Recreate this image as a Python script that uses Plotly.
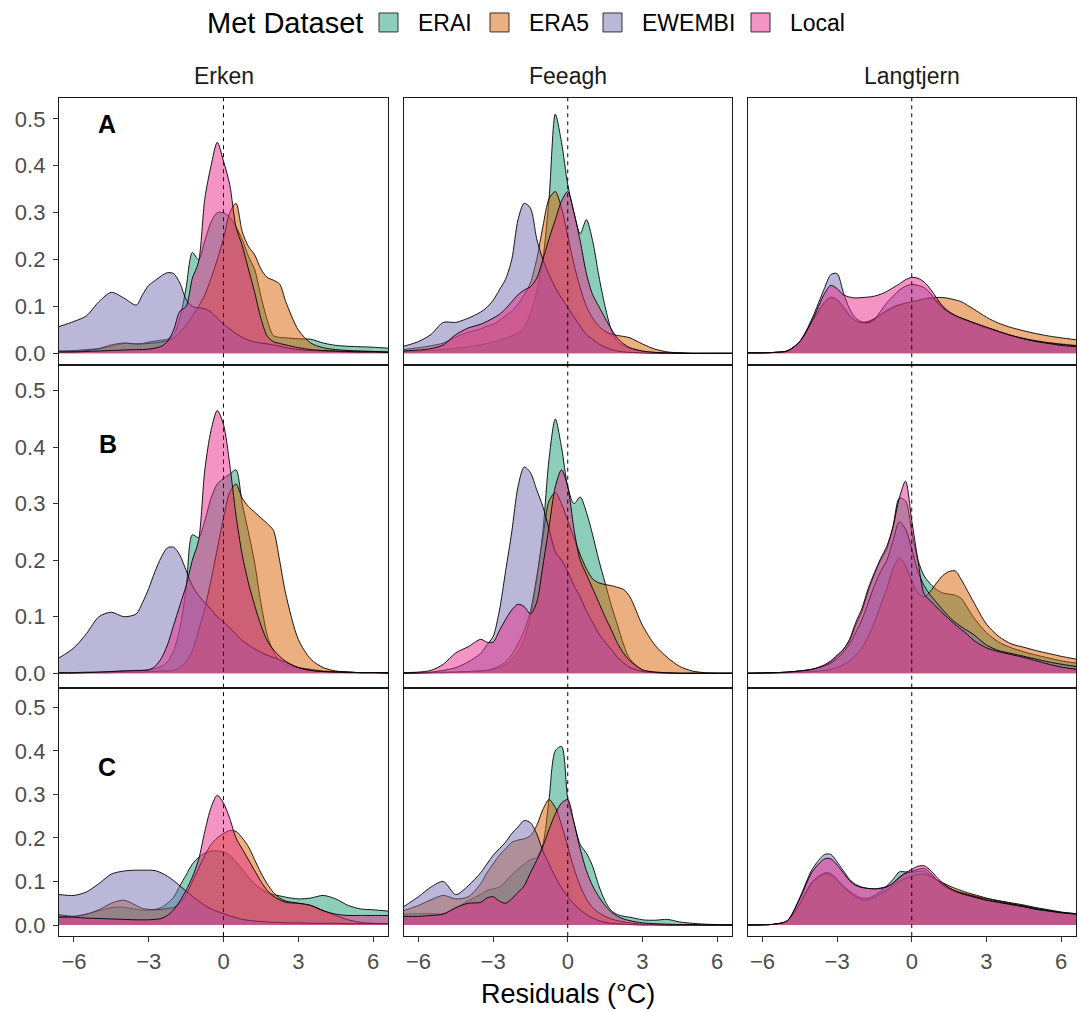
import plotly.graph_objects as go

W, H = 1079, 1012

# residual grid (°C) shared by every density curve
grid = [-6.6, -6, -5.5, -5, -4.5, -4, -3.5, -3.25, -3, -2.75,
        -2.5, -2.25, -2, -1.75, -1.5, -1.25, -1, -0.75, -0.5, -0.25,
        0, 0.25, 0.5, 0.75, 1, 1.25, 1.5, 1.75, 2, 2.25,
        2.5, 3, 3.5, 4, 4.5, 5, 5.5, 6, 6.6]

lakes = ["Erken", "Feeagh", "Langtjern"]
panel_rows = ["A", "B", "C"]
datasets = ["ERAI", "ERA5", "EWEMBI", "Local"]
x_ticks = [-6, -3, 0, 3, 6]
y_ticks = [0, 0.1, 0.2, 0.3, 0.4, 0.5]
y_tick_text = ["0.0", "0.1", "0.2", "0.3", "0.4", "0.5"]

# ---------------- Erken ----------------
erken_A_ERAI = [0.005, 0.006, 0.008, 0.010, 0.015, 0.021, 0.020, 0.021, 0.024, 0.026,
                0.028, 0.030, 0.040, 0.075, 0.140, 0.215, 0.200, 0.240, 0.280, 0.300,
                0.300, 0.290, 0.270, 0.243, 0.207, 0.179, 0.122, 0.072, 0.038, 0.034,
                0.033, 0.031, 0.030, 0.022, 0.017, 0.015, 0.014, 0.013, 0.011]
erken_A_ERA5 = [0.003, 0.004, 0.006, 0.010, 0.018, 0.022, 0.020, 0.020, 0.021, 0.022,
                0.024, 0.027, 0.032, 0.045, 0.060, 0.080, 0.100, 0.125, 0.160, 0.200,
                0.245, 0.300, 0.320, 0.260, 0.228, 0.210, 0.180, 0.162, 0.156, 0.148,
                0.110, 0.050, 0.022, 0.012, 0.008, 0.006, 0.005, 0.004, 0.003]
erken_A_EWEMBI = [0.057, 0.068, 0.080, 0.110, 0.130, 0.118, 0.103, 0.125, 0.145, 0.155,
                  0.165, 0.172, 0.170, 0.150, 0.115, 0.100, 0.097, 0.095, 0.088, 0.075,
                  0.062, 0.052, 0.042, 0.034, 0.028, 0.024, 0.022, 0.020, 0.018, 0.015,
                  0.012, 0.008, 0.006, 0.005, 0.004, 0.003, 0.003, 0.003, 0.002]
erken_A_Local = [0.003, 0.003, 0.004, 0.005, 0.006, 0.007, 0.008, 0.008, 0.009, 0.011,
                 0.015, 0.025, 0.050, 0.090, 0.100, 0.160, 0.195, 0.330, 0.400, 0.450,
                 0.410, 0.360, 0.270, 0.230, 0.180, 0.130, 0.075, 0.037, 0.025, 0.021,
                 0.018, 0.012, 0.008, 0.006, 0.005, 0.004, 0.003, 0.003, 0.002]

erken_B_ERAI = [0.001, 0.001, 0.002, 0.002, 0.003, 0.004, 0.004, 0.005, 0.006, 0.008,
                0.012, 0.020, 0.040, 0.080, 0.150, 0.245, 0.240, 0.270, 0.310, 0.335,
                0.345, 0.352, 0.360, 0.300, 0.250, 0.195, 0.125, 0.068, 0.038, 0.022,
                0.015, 0.010, 0.007, 0.004, 0.003, 0.002, 0.001, 0.001, 0.001]
erken_B_ERA5 = [0.000, 0.000, 0.001, 0.001, 0.001, 0.002, 0.002, 0.002, 0.003, 0.003,
                0.004, 0.004, 0.005, 0.010, 0.020, 0.040, 0.075, 0.115, 0.165, 0.220,
                0.275, 0.320, 0.335, 0.310, 0.295, 0.285, 0.275, 0.265, 0.253, 0.200,
                0.140, 0.060, 0.025, 0.010, 0.004, 0.002, 0.001, 0.001, 0.000]
erken_B_EWEMBI = [0.027, 0.045, 0.070, 0.100, 0.108, 0.100, 0.105, 0.125, 0.150, 0.180,
                  0.205, 0.222, 0.223, 0.209, 0.182, 0.155, 0.138, 0.125, 0.113, 0.100,
                  0.091, 0.080, 0.069, 0.058, 0.050, 0.043, 0.037, 0.032, 0.028, 0.024,
                  0.019, 0.010, 0.005, 0.003, 0.002, 0.002, 0.001, 0.001, 0.001]
erken_B_Local = [0.001, 0.001, 0.001, 0.002, 0.003, 0.004, 0.005, 0.005, 0.006, 0.012,
                 0.026, 0.050, 0.085, 0.120, 0.155, 0.200, 0.235, 0.360, 0.430, 0.465,
                 0.440, 0.370, 0.280, 0.210, 0.160, 0.120, 0.085, 0.058, 0.042, 0.030,
                 0.021, 0.010, 0.005, 0.003, 0.002, 0.001, 0.001, 0.001, 0.000]

erken_C_ERAI = [0.024, 0.020, 0.025, 0.033, 0.040, 0.041, 0.036, 0.034, 0.034, 0.036,
                0.040, 0.050, 0.064, 0.090, 0.115, 0.140, 0.155, 0.165, 0.170, 0.170,
                0.168, 0.160, 0.145, 0.128, 0.110, 0.095, 0.083, 0.075, 0.070, 0.067,
                0.064, 0.060, 0.062, 0.068, 0.060, 0.045, 0.037, 0.035, 0.032]
erken_C_ERA5 = [0.020, 0.020, 0.025, 0.035, 0.050, 0.057, 0.045, 0.038, 0.036, 0.035,
                0.036, 0.038, 0.040, 0.050, 0.070, 0.100, 0.130, 0.160, 0.185, 0.200,
                0.210, 0.217, 0.215, 0.200, 0.180, 0.150, 0.120, 0.095, 0.075, 0.062,
                0.055, 0.050, 0.045, 0.033, 0.022, 0.012, 0.006, 0.004, 0.003]
erken_C_EWEMBI = [0.070, 0.068, 0.076, 0.095, 0.117, 0.124, 0.126, 0.126, 0.126, 0.125,
                  0.120, 0.112, 0.102, 0.090, 0.078, 0.066, 0.055, 0.045, 0.037, 0.031,
                  0.026, 0.021, 0.017, 0.013, 0.011, 0.009, 0.008, 0.007, 0.006, 0.006,
                  0.005, 0.005, 0.004, 0.004, 0.004, 0.003, 0.003, 0.003, 0.003]
erken_C_Local = [0.018, 0.018, 0.016, 0.015, 0.014, 0.013, 0.012, 0.012, 0.012, 0.013,
                 0.015, 0.022, 0.035, 0.055, 0.080, 0.110, 0.150, 0.215, 0.270, 0.298,
                 0.280, 0.245, 0.200, 0.175, 0.150, 0.125, 0.100, 0.080, 0.066, 0.058,
                 0.052, 0.050, 0.045, 0.033, 0.025, 0.022, 0.022, 0.022, 0.022]

# ---------------- Feeagh ----------------
feeagh_A_ERAI = [0.004, 0.005, 0.006, 0.008, 0.011, 0.014, 0.018, 0.021, 0.024, 0.028,
                 0.032, 0.037, 0.043, 0.055, 0.085, 0.130, 0.200, 0.330, 0.510, 0.450,
                 0.360, 0.300, 0.255, 0.285, 0.240, 0.165, 0.100, 0.050, 0.025, 0.016,
                 0.010, 0.004, 0.002, 0.001, 0.001, 0.000, 0.000, 0.000, 0.000]
feeagh_A_ERA5 = [0.008, 0.012, 0.016, 0.022, 0.035, 0.045, 0.052, 0.058, 0.062, 0.070,
                 0.080, 0.090, 0.105, 0.125, 0.150, 0.200, 0.270, 0.330, 0.345, 0.310,
                 0.250, 0.190, 0.140, 0.100, 0.075, 0.058, 0.047, 0.041, 0.038, 0.036,
                 0.033, 0.020, 0.009, 0.003, 0.001, 0.000, 0.000, 0.000, 0.000]
feeagh_A_EWEMBI = [0.015, 0.025, 0.040, 0.066, 0.066, 0.075, 0.088, 0.098, 0.113, 0.135,
                   0.158, 0.200, 0.285, 0.320, 0.310, 0.245, 0.200, 0.168, 0.140, 0.118,
                   0.098, 0.078, 0.058, 0.040, 0.030, 0.020, 0.013, 0.008, 0.005, 0.003,
                   0.002, 0.001, 0.000, 0.000, 0.000, 0.000, 0.000, 0.000, 0.000]
feeagh_A_Local = [0.005, 0.007, 0.010, 0.018, 0.040, 0.054, 0.062, 0.068, 0.075, 0.083,
                  0.095, 0.110, 0.125, 0.135, 0.142, 0.160, 0.200, 0.245, 0.285, 0.325,
                  0.345, 0.300, 0.240, 0.170, 0.125, 0.100, 0.075, 0.052, 0.032, 0.020,
                  0.012, 0.005, 0.002, 0.001, 0.000, 0.000, 0.000, 0.000, 0.000]

feeagh_B_ERAI = [0.000, 0.001, 0.001, 0.002, 0.002, 0.003, 0.004, 0.005, 0.007, 0.010,
                 0.015, 0.025, 0.038, 0.060, 0.100, 0.165, 0.250, 0.380, 0.450, 0.400,
                 0.330, 0.300, 0.312, 0.285, 0.245, 0.200, 0.160, 0.120, 0.085, 0.050,
                 0.025, 0.006, 0.002, 0.001, 0.000, 0.000, 0.000, 0.000, 0.000]
feeagh_B_ERA5 = [0.000, 0.000, 0.001, 0.001, 0.002, 0.003, 0.004, 0.005, 0.008, 0.013,
                 0.020, 0.033, 0.052, 0.075, 0.110, 0.170, 0.240, 0.305, 0.320, 0.300,
                 0.270, 0.240, 0.210, 0.185, 0.167, 0.160, 0.157, 0.155, 0.152, 0.148,
                 0.135, 0.085, 0.050, 0.028, 0.012, 0.004, 0.001, 0.000, 0.000]
feeagh_B_EWEMBI = [0.000, 0.001, 0.002, 0.005, 0.010, 0.020, 0.035, 0.050, 0.065, 0.110,
                   0.180, 0.250, 0.330, 0.365, 0.355, 0.325, 0.295, 0.255, 0.215, 0.200,
                   0.180, 0.155, 0.135, 0.110, 0.090, 0.070, 0.055, 0.042, 0.028, 0.018,
                   0.010, 0.003, 0.001, 0.000, 0.000, 0.000, 0.000, 0.000, 0.000]
feeagh_B_Local = [0.001, 0.002, 0.005, 0.016, 0.036, 0.047, 0.060, 0.055, 0.055, 0.075,
                  0.095, 0.112, 0.122, 0.118, 0.105, 0.125, 0.190, 0.260, 0.330, 0.360,
                  0.330, 0.255, 0.200, 0.175, 0.150, 0.125, 0.100, 0.077, 0.053, 0.035,
                  0.022, 0.006, 0.002, 0.001, 0.000, 0.000, 0.000, 0.000, 0.000]

feeagh_C_ERAI = [0.025, 0.026, 0.026, 0.026, 0.038, 0.056, 0.070, 0.079, 0.083, 0.087,
                 0.100, 0.115, 0.128, 0.140, 0.150, 0.155, 0.185, 0.290, 0.400, 0.410,
                 0.290, 0.235, 0.185, 0.165, 0.135, 0.090, 0.055, 0.033, 0.024, 0.020,
                 0.018, 0.012, 0.011, 0.013, 0.007, 0.004, 0.002, 0.001, 0.000]
feeagh_C_ERA5 = [0.033, 0.045, 0.058, 0.068, 0.060, 0.065, 0.095, 0.120, 0.140, 0.160,
                 0.175, 0.190, 0.195, 0.198, 0.205, 0.228, 0.265, 0.288, 0.270, 0.230,
                 0.180, 0.130, 0.090, 0.060, 0.040, 0.028, 0.020, 0.014, 0.010, 0.007,
                 0.005, 0.002, 0.001, 0.000, 0.000, 0.000, 0.000, 0.000, 0.000]
feeagh_C_EWEMBI = [0.042, 0.065, 0.087, 0.100, 0.070, 0.090, 0.120, 0.140, 0.160, 0.175,
                   0.190, 0.210, 0.225, 0.240, 0.235, 0.210, 0.170, 0.140, 0.110, 0.085,
                   0.065, 0.048, 0.035, 0.024, 0.016, 0.010, 0.006, 0.004, 0.003, 0.002,
                   0.001, 0.000, 0.000, 0.000, 0.000, 0.000, 0.000, 0.000, 0.000]
feeagh_C_Local = [0.020, 0.020, 0.022, 0.025, 0.040, 0.050, 0.052, 0.062, 0.065, 0.055,
                  0.050, 0.060, 0.075, 0.090, 0.120, 0.148, 0.180, 0.220, 0.255, 0.280,
                  0.288, 0.235, 0.175, 0.125, 0.090, 0.065, 0.045, 0.030, 0.020, 0.014,
                  0.010, 0.005, 0.003, 0.002, 0.001, 0.001, 0.000, 0.000, 0.000]

# ---------------- Langtjern ----------------
langtjern_A_ERAI = [0.001, 0.001, 0.002, 0.005, 0.025, 0.068, 0.108, 0.118, 0.113, 0.098,
                    0.080, 0.068, 0.065, 0.067, 0.074, 0.083, 0.092, 0.099, 0.104, 0.107,
                    0.110, 0.113, 0.116, 0.118, 0.112, 0.100, 0.087, 0.079, 0.073, 0.068,
                    0.063, 0.053, 0.045, 0.038, 0.032, 0.027, 0.023, 0.020, 0.017]
langtjern_A_ERA5 = [0.001, 0.001, 0.002, 0.005, 0.025, 0.068, 0.110, 0.120, 0.115, 0.100,
                    0.082, 0.070, 0.066, 0.068, 0.074, 0.082, 0.090, 0.097, 0.103, 0.107,
                    0.110, 0.113, 0.116, 0.118, 0.119, 0.119, 0.117, 0.114, 0.110, 0.102,
                    0.094, 0.077, 0.064, 0.055, 0.048, 0.042, 0.037, 0.033, 0.029]
langtjern_A_EWEMBI = [0.001, 0.001, 0.002, 0.005, 0.025, 0.075, 0.140, 0.168, 0.170, 0.130,
                      0.095, 0.075, 0.067, 0.065, 0.072, 0.090, 0.108, 0.122, 0.135, 0.143,
                      0.147, 0.145, 0.140, 0.128, 0.110, 0.096, 0.087, 0.080, 0.075, 0.070,
                      0.065, 0.055, 0.046, 0.038, 0.031, 0.026, 0.022, 0.019, 0.016]
langtjern_A_Local = [0.001, 0.001, 0.002, 0.005, 0.025, 0.070, 0.128, 0.145, 0.138, 0.125,
                     0.120, 0.118, 0.119, 0.120, 0.122, 0.126, 0.132, 0.140, 0.148, 0.157,
                     0.162, 0.160, 0.152, 0.137, 0.118, 0.100, 0.089, 0.081, 0.075, 0.070,
                     0.065, 0.056, 0.047, 0.038, 0.031, 0.025, 0.021, 0.017, 0.014]

langtjern_B_ERAI = [0.000, 0.0005, 0.001, 0.002, 0.004, 0.007, 0.014, 0.020, 0.030, 0.042,
                    0.058, 0.085, 0.110, 0.145, 0.175, 0.200, 0.220, 0.260, 0.310, 0.305,
                    0.250, 0.200, 0.172, 0.158, 0.148, 0.142, 0.140, 0.138, 0.132, 0.115,
                    0.098, 0.072, 0.055, 0.045, 0.038, 0.032, 0.027, 0.022, 0.018]
langtjern_B_ERA5 = [0.000, 0.000, 0.0005, 0.001, 0.002, 0.003, 0.005, 0.007, 0.010, 0.015,
                    0.022, 0.032, 0.045, 0.065, 0.090, 0.120, 0.150, 0.185, 0.204, 0.190,
                    0.162, 0.142, 0.135, 0.145, 0.160, 0.173, 0.180, 0.181, 0.165, 0.145,
                    0.125, 0.087, 0.065, 0.052, 0.046, 0.040, 0.035, 0.030, 0.025]
langtjern_B_EWEMBI = [0.000, 0.0005, 0.001, 0.002, 0.004, 0.007, 0.013, 0.018, 0.026, 0.037,
                      0.052, 0.072, 0.095, 0.125, 0.155, 0.180, 0.200, 0.235, 0.268, 0.255,
                      0.220, 0.180, 0.155, 0.138, 0.125, 0.112, 0.100, 0.090, 0.082, 0.075,
                      0.068, 0.050, 0.040, 0.035, 0.030, 0.025, 0.020, 0.016, 0.012]
langtjern_B_Local = [0.000, 0.0005, 0.001, 0.002, 0.004, 0.007, 0.015, 0.022, 0.032, 0.042,
                     0.060, 0.090, 0.115, 0.150, 0.178, 0.203, 0.225, 0.260, 0.310, 0.340,
                     0.270, 0.200, 0.140, 0.128, 0.117, 0.106, 0.096, 0.086, 0.077, 0.068,
                     0.058, 0.045, 0.038, 0.033, 0.028, 0.022, 0.016, 0.011, 0.007]

langtjern_C_ERAI = [0.000, 0.0005, 0.002, 0.009, 0.050, 0.100, 0.120, 0.118, 0.105, 0.090,
                    0.078, 0.068, 0.062, 0.062, 0.068, 0.078, 0.090, 0.105, 0.122, 0.122,
                    0.121, 0.123, 0.124, 0.115, 0.103, 0.093, 0.085, 0.079, 0.075, 0.071,
                    0.067, 0.061, 0.056, 0.051, 0.046, 0.040, 0.035, 0.030, 0.026]
langtjern_C_ERA5 = [0.000, 0.0005, 0.002, 0.009, 0.048, 0.097, 0.117, 0.115, 0.103, 0.088,
                    0.075, 0.065, 0.058, 0.058, 0.064, 0.072, 0.080, 0.090, 0.100, 0.107,
                    0.112, 0.116, 0.117, 0.112, 0.104, 0.097, 0.090, 0.084, 0.079, 0.074,
                    0.070, 0.062, 0.055, 0.049, 0.044, 0.038, 0.033, 0.029, 0.025]
langtjern_C_EWEMBI = [0.000, 0.0005, 0.002, 0.010, 0.063, 0.128, 0.162, 0.162, 0.145, 0.125,
                      0.105, 0.093, 0.087, 0.084, 0.083, 0.085, 0.088, 0.095, 0.108, 0.118,
                      0.123, 0.128, 0.130, 0.120, 0.104, 0.092, 0.083, 0.077, 0.073, 0.069,
                      0.066, 0.058, 0.052, 0.047, 0.042, 0.037, 0.033, 0.029, 0.026]
langtjern_C_Local = [0.000, 0.0005, 0.002, 0.010, 0.060, 0.122, 0.152, 0.152, 0.138, 0.120,
                     0.102, 0.091, 0.086, 0.084, 0.083, 0.084, 0.088, 0.097, 0.110, 0.120,
                     0.128, 0.135, 0.136, 0.126, 0.110, 0.096, 0.086, 0.078, 0.072, 0.068,
                     0.064, 0.057, 0.052, 0.047, 0.042, 0.036, 0.032, 0.028, 0.025]

series = {
    ("Erken", "A"): [erken_A_ERAI, erken_A_ERA5, erken_A_EWEMBI, erken_A_Local],
    ("Erken", "B"): [erken_B_ERAI, erken_B_ERA5, erken_B_EWEMBI, erken_B_Local],
    ("Erken", "C"): [erken_C_ERAI, erken_C_ERA5, erken_C_EWEMBI, erken_C_Local],
    ("Feeagh", "A"): [feeagh_A_ERAI, feeagh_A_ERA5, feeagh_A_EWEMBI, feeagh_A_Local],
    ("Feeagh", "B"): [feeagh_B_ERAI, feeagh_B_ERA5, feeagh_B_EWEMBI, feeagh_B_Local],
    ("Feeagh", "C"): [feeagh_C_ERAI, feeagh_C_ERA5, feeagh_C_EWEMBI, feeagh_C_Local],
    ("Langtjern", "A"): [langtjern_A_ERAI, langtjern_A_ERA5, langtjern_A_EWEMBI, langtjern_A_Local],
    ("Langtjern", "B"): [langtjern_B_ERAI, langtjern_B_ERA5, langtjern_B_EWEMBI, langtjern_B_Local],
    ("Langtjern", "C"): [langtjern_C_ERAI, langtjern_C_ERA5, langtjern_C_EWEMBI, langtjern_C_Local],
}

# ---------------- styling / layout ----------------
fill_rgb = {"ERAI": (27, 158, 119), "ERA5": (217, 95, 2),
            "EWEMBI": (117, 112, 179), "Local": (231, 41, 138)}
FONT = "Liberation Sans, Arial, Helvetica, sans-serif"

# panel boxes in pixels
col_px = [(59, 388), (403.5, 732), (747.5, 1076)]
row_px = [(98, 366), (366, 689), (689, 938)]


def fx(px):
    return px / W


def fy(py):
    return 1 - py / H


fig = go.Figure()
layout = dict(
    width=W, height=H, margin=dict(l=0, r=0, t=0, b=0),
    paper_bgcolor="white", plot_bgcolor="white", showlegend=False,
    font=dict(family=FONT, color="#000000"),
)
shapes = []
annotations = []

for r, prow in enumerate(panel_rows):
    for c, lake in enumerate(lakes):
        i = r * 3 + c + 1
        xa = "x" if i == 1 else f"x{i}"
        ya = "y" if i == 1 else f"y{i}"
        bottom = (r == 2)
        left = (c == 0)
        layout["xaxis" if i == 1 else f"xaxis{i}"] = dict(
            domain=[fx(col_px[c][0]), fx(col_px[c][1])], anchor=ya,
            range=[-6.6, 6.6], showgrid=False, zeroline=False,
            showline=True, mirror=True, linecolor="#1a1a1a", linewidth=1.3,
            ticks="outside" if bottom else "", ticklen=5, tickcolor="#333333",
            tickwidth=1.2, tickvals=x_ticks, showticklabels=bottom,
            tickfont=dict(size=22, color="#4d4d4d", family=FONT),
            ticklabelstandoff=0,
        )
        layout["yaxis" if i == 1 else f"yaxis{i}"] = dict(
            domain=[fy(row_px[r][1]), fy(row_px[r][0])], anchor=xa,
            range=[-0.0255, 0.545], showgrid=False, zeroline=False,
            showline=True, mirror=True, linecolor="#1a1a1a", linewidth=1.3,
            ticks="outside" if left else "", ticklen=5, tickcolor="#333333",
            tickwidth=1.2, tickvals=y_ticks, ticktext=y_tick_text,
            showticklabels=left,
            tickfont=dict(size=22, color="#4d4d4d", family=FONT),
            ticklabelstandoff=3,
        )
        for ds, vals in zip(datasets, series[(lake, prow)]):
            rr, gg, bb = fill_rgb[ds]
            fig.add_trace(go.Scatter(
                x=grid, y=vals, xaxis=xa, yaxis=ya, mode="lines",
                line=dict(color="rgba(0,0,0,0.9)", width=1, shape="spline", smoothing=0.8),
                fill="tozeroy", fillcolor=f"rgba({rr},{gg},{bb},0.5)",
                name=ds, hoverinfo="skip",
            ))
        # dashed zero line
        shapes.append(dict(type="line", xref=xa, yref=f"{ya} domain",
                           x0=0, x1=0, y0=0, y1=1, layer="above",
                           line=dict(color="black", width=1, dash="4px,4px")))

# facet strip labels
for c, lake in enumerate(lakes):
    annotations.append(dict(text=lake, xref="paper", yref="paper",
                            x=fx((col_px[c][0] + col_px[c][1]) / 2), y=fy(76),
                            showarrow=False, xanchor="center", yanchor="middle",
                            font=dict(size=23, color="#1a1a1a", family=FONT)))

# panel letters
letter_pos = [(107, 124), (108, 445), (107, 769)]
for prow, (lx, ly) in zip(panel_rows, letter_pos):
    annotations.append(dict(text=f"<b>{prow}</b>", xref="paper", yref="paper",
                            x=fx(lx), y=fy(ly), showarrow=False,
                            xanchor="center", yanchor="middle",
                            font=dict(size=25, color="black", family=FONT)))

# x axis title
annotations.append(dict(text="Residuals (°C)", xref="paper", yref="paper",
                        x=fx(567.5), y=fy(996), showarrow=False,
                        xanchor="center", yanchor="middle",
                        font=dict(size=27, color="black", family=FONT)))

# legend (title + keys)
annotations.append(dict(text="Met Dataset", xref="paper", yref="paper",
                        x=fx(205), y=fy(23), showarrow=False,
                        xanchor="left", yanchor="middle",
                        font=dict(size=29, color="black", family=FONT)))
key_x = [379, 490, 603, 751]
for ds, kx in zip(datasets, key_x):
    rr, gg, bb = fill_rgb[ds]
    shapes.append(dict(type="rect", xref="paper", yref="paper",
                       x0=fx(kx), x1=fx(kx + 19), y0=fy(32), y1=fy(13),
                       fillcolor=f"rgba({rr},{gg},{bb},0.5)",
                       line=dict(color="#333333", width=1)))
    annotations.append(dict(text=ds, xref="paper", yref="paper",
                            x=fx(kx + 37), y=fy(23), showarrow=False,
                            xanchor="left", yanchor="middle",
                            font=dict(size=23, color="black", family=FONT)))

layout["shapes"] = shapes
layout["annotations"] = annotations
fig.update_layout(**layout)
fig.write_html("out.html")
